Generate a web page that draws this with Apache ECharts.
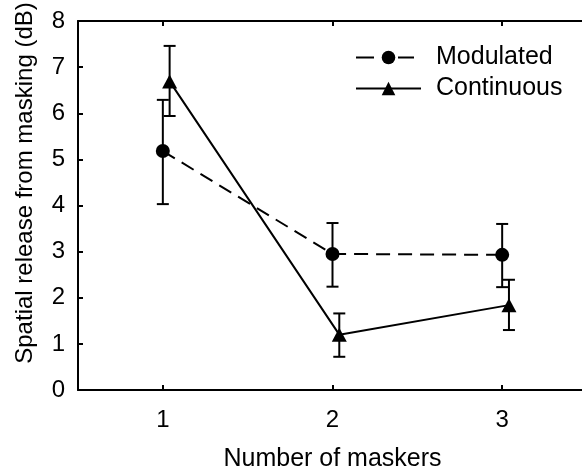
<!DOCTYPE html>
<html>
<head>
<meta charset="utf-8">
<script src="https://cdn.jsdelivr.net/npm/echarts@6/dist/echarts.min.js"></script>
<style>html,body{margin:0;padding:0;background:#fff;}#c{width:582px;height:470px;}</style>
</head>
<body>
<div id="c"></div>
<script>
var xTicks = [1, 2, 3];
var yTicks = [0, 1, 2, 3, 4, 5, 6, 7, 8];
var modX = [1, 2, 3];
var modY = [5.18, 2.95, 2.93];
var modLow = [4.03, 2.24, 2.23];
var modHigh = [6.29, 3.62, 3.60];
var conX = [1.04, 2.04, 3.04];
var conY = [6.69, 1.20, 1.84];
var conLow = [5.94, 0.72, 1.30];
var conHigh = [7.46, 1.66, 2.39];

var FONT = '"Liberation Sans", Arial, sans-serif';

function errData(xs, lo, hi) {
  return xs.map(function (x, i) { return [x, lo[i], hi[i]]; });
}
function errRender(params, api) {
  var x = api.value(0);
  var p1 = api.coord([x, api.value(1)]);
  var p2 = api.coord([x, api.value(2)]);
  var w = 6;
  var st = { stroke: '#000', lineWidth: 2, fill: null };
  return {
    type: 'group',
    children: [
      { type: 'line', shape: { x1: p1[0], y1: p1[1], x2: p2[0], y2: p2[1] }, style: st },
      { type: 'line', shape: { x1: p1[0] - w, y1: p1[1], x2: p1[0] + w, y2: p1[1] }, style: st },
      { type: 'line', shape: { x1: p2[0] - w, y1: p2[1], x2: p2[0] + w, y2: p2[1] }, style: st }
    ]
  };
}
function pts(xs, ys) { return xs.map(function (x, i) { return [x, ys[i]]; }); }

var chart = echarts.init(document.getElementById('c'), null, { renderer: 'canvas' });
chart.setOption({
  animation: false,
  backgroundColor: '#fff',
  textStyle: { fontFamily: FONT, color: '#000' },
  grid: { left: 78, top: 21, right: -5, bottom: 80, containLabel: false, outerBoundsMode: 'none' },
  legend: {
    left: 355, top: 45, padding: 0, orient: 'vertical', itemWidth: 65, itemHeight: 17, itemGap: 6,
    textStyle: { fontSize: 25, color: '#000', fontFamily: FONT, padding: [0, 0, 0, 10] },
    data: [
      { name: 'Modulated', lineStyle: { type: [18, 24, 16], width: 2, color: '#000' } },
      { name: 'Continuous' }
    ]
  },
  xAxis: [{
    type: 'value', min: 0.5, max: 3.5, position: 'bottom',
    name: 'Number of maskers', nameLocation: 'middle', nameGap: 57,
    nameTextStyle: { fontSize: 25, color: '#000', fontFamily: FONT },
    axisLine: { lineStyle: { color: '#000', width: 2 } },
    axisTick: { inside: true, length: 5, lineStyle: { color: '#000', width: 2 }, customValues: xTicks },
    axisLabel: { fontSize: 24, color: '#000', margin: 18, fontFamily: FONT, customValues: xTicks },
    splitLine: { show: false }
  }, {
    type: 'value', min: 0.5, max: 3.5, position: 'top',
    axisLine: { show: true, lineStyle: { color: '#000', width: 2 } },
    axisTick: { show: true, inside: true, length: 5, lineStyle: { color: '#000', width: 2 }, customValues: xTicks },
    axisLabel: { show: false },
    splitLine: { show: false }
  }],
  yAxis: {
    type: 'value', min: 0, max: 8, interval: 1,
    axisLine: { show: true, lineStyle: { color: '#000', width: 2 } },
    axisTick: { show: true, inside: true, length: 5, lineStyle: { color: '#000', width: 2 } },
    axisLabel: { fontSize: 24, color: '#000', margin: 13, fontFamily: FONT },
    splitLine: { show: false }
  },
  graphic: [{
    type: 'text', x: 25, y: 183, rotation: Math.PI / 2,
    style: { text: 'Spatial release from masking (dB)', font: '24px ' + FONT, fill: '#000', align: 'center', verticalAlign: 'middle' }
  }],
  series: [{
    type: 'custom', name: 'errMod', renderItem: errRender, data: errData(modX, modLow, modHigh), z: 1, silent: true
  }, {
    type: 'custom', name: 'errCon', renderItem: errRender, data: errData(conX, conLow, conHigh), z: 1, silent: true
  }, {
    type: 'line', name: 'Modulated', data: pts(modX, modY), symbol: 'circle', symbolSize: 14,
    itemStyle: { color: '#000' }, lineStyle: { color: '#000', width: 2, type: [14, 8] }, z: 3
  }, {
    type: 'line', name: 'Continuous', data: pts(conX, conY), symbol: 'triangle', symbolSize: [15, 14],
    itemStyle: { color: '#000' }, lineStyle: { color: '#000', width: 2, type: 'solid' }, z: 3
  }]
});
</script>
</body>
</html>
